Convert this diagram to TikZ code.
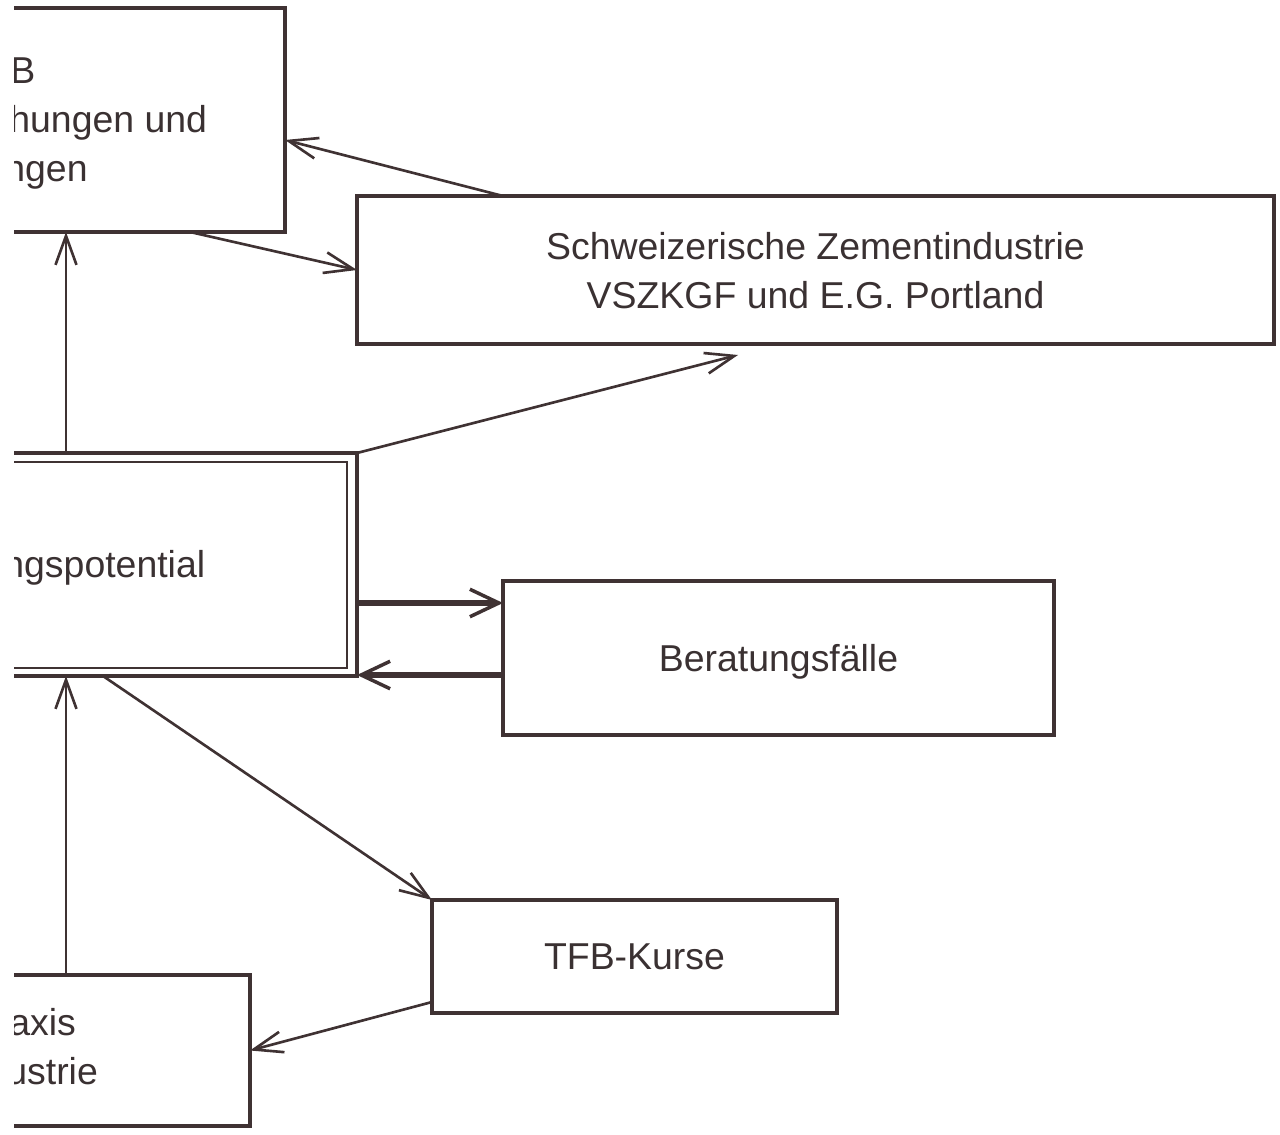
\documentclass[tikz,border=0pt]{standalone}
\usepackage{fontspec}
\setmainfont{Liberation Sans}
\usetikzlibrary{arrows.meta}
\definecolor{ink}{HTML}{3F3233}
\definecolor{print}{HTML}{3A3132}

\begin{document}
\begin{tikzpicture}[
  box/.style={draw=ink,line width=1.8pt,inner sep=0pt,outer sep=0pt,text depth=0pt,
    text=print,align=center,font=\fontsize{21.3}{27.9}\selectfont},
  lbl/.style={text=print,font=\fontsize{21.3}{27.9}\selectfont,inner sep=0pt,anchor=base west},
  link/.style={draw=ink,line width=1.5pt,-{Straight Barb[length=0.58cm,width=0.42cm]}},
  flow/.style={draw=ink,line width=3.8pt,-{Straight Barb[length=0.58cm,width=0.55cm,line width=2pt]}}]
\useasboundingbox (0,0) rectangle (25.6,-22.7);
\clip (0.28,0.1) rectangle (25.7,-22.8);

\node[box,minimum width=7.7cm,minimum height=4.48cm,anchor=north east] (tfb) at (5.70,-0.16) {};
\node[box,minimum width=18.34cm,minimum height=2.96cm] (zem) at (16.31,-5.40)
  {Schweizerische Zementindustrie\\VSZKGF und E.G. Portland};
\node[box,minimum width=9.14cm,minimum height=4.46cm,anchor=north east] (pot) at (7.14,-9.06) {};
\draw[ink,line width=1.3pt] ([shift={(0.2,-0.18)}]pot.north west) rectangle ([shift={(-0.2,0.16)}]pot.south east);
\node[box,minimum width=11.02cm,minimum height=3.08cm] (ber) at (15.57,-13.16) {Beratungsfälle};
\node[box,minimum width=8.10cm,minimum height=2.26cm] (kur) at (12.69,-19.13) {TFB-Kurse};
\node[box,minimum width=7cm,minimum height=3.02cm,anchor=north east] (pra) at (5.00,-19.50) {};

\node[lbl] (tfbA) at (0.20,-1.67) {B};
\node[lbl] (tfbB) at (0.18,-2.65) {hungen und};
\node[lbl] (tfbC) at (0.08,-3.63) {ngen};
\node[lbl] (potA) at (0.06,-11.56) {ngspotential};
\node[lbl] (praA) at (0.18,-20.70) {axis};
\node[lbl] (praB) at (0.12,-21.68) {ustrie};

\coordinate (lane) at (1.32,0);
\coordinate (hi) at (0,-12.06);
\coordinate (lo) at (0,-13.50);
\coordinate (zemtip) at (14.76,-7.10);

\draw[link] ([xshift=2.92cm]zem.north west) -- ([yshift=-0.4cm]tfb.east);
\draw[link] ([xshift=-1.9cm]tfb.south east) -- (zem.west);
\draw[link] (lane |- pot.north) -- (lane |- tfb.south);
\draw[link] (pot.north east) -- (zemtip);
\draw[flow] (pot.east |- hi) -- (ber.west |- hi);
\draw[flow] (ber.west |- lo) -- (pot.east |- lo);
\draw[link] ([xshift=-5.08cm]pot.south east) -- (kur.north west);
\draw[link] (lane |- pra.north) -- (lane |- pot.south);
\draw[link] ([yshift=-0.91cm]kur.west) -- (pra.east);
\end{tikzpicture}
\end{document}
